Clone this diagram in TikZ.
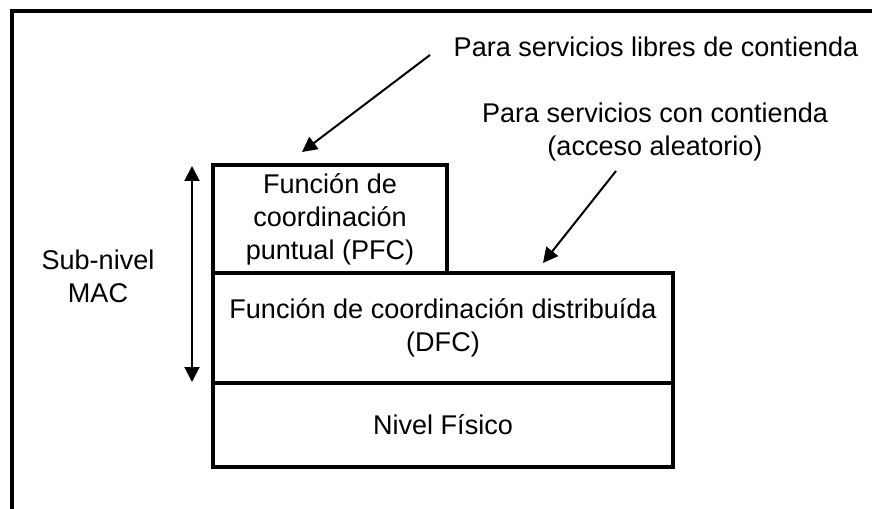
\documentclass[tikz,border=0pt]{standalone}
\usepackage{fontspec}
\setmainfont{Liberation Sans}
\usepackage{tikz}
\usetikzlibrary{positioning,calc,arrows.meta}

\tikzset{
    layer/.style={draw, line width=0.07cm, inner sep=0pt, align=center, font=\fontsize{15.4}{18.8}\selectfont},
    lbl/.style={align=center, font=\fontsize{15.4}{18.8}\selectfont},
    pointer/.style={-{Triangle[length=0.3cm,width=0.3cm]}, line width=0.04cm}
}

\begin{document}
\begin{tikzpicture}[x=0.02cm,y=-0.02cm]
    \useasboundingbox (0,0) rectangle (872,509);
    % marco
    \draw[line width=0.07cm] (12,509) -- (12,11) -- (872,11);

    % niveles
    \node[layer, minimum width=4.68cm, minimum height=2.16cm] (pfc) at (330,219) {Función de\\coordinación\\puntual (PFC)};
    \node[layer, minimum width=9.2cm, minimum height=2.2cm] (dfc) at (443,328) {Función de coordinación distribuída\\(DFC)};
    \node[layer, minimum width=9.2cm, minimum height=1.68cm] (fis) at (443,425) {Nivel Físico};

    % textos
    \node[lbl] (mac) at (98,276) {Sub-nivel\\MAC};
    \node[lbl] (libres) at (656,47) {Para servicios libres de contienda};
    \node[lbl] (contienda) at (655,132) {Para servicios con contienda\\(acceso aleatorio)};

    % flechas
    \coordinate (a1) at (430,55);
    \coordinate (t1) at (302,152);
    \coordinate (a2) at (616,171);
    \coordinate (t2) at (543,263);
    \draw[pointer] (a1) -- (t1);
    \draw[pointer] (a2) -- (t2);

    \coordinate (top) at (192,166);
    \coordinate (bot) at (192,382);
    \draw[{Triangle[length=0.3cm,width=0.3cm]}-{Triangle[length=0.3cm,width=0.3cm]}, line width=0.04cm] (top) -- (bot);
\end{tikzpicture}
\end{document}
